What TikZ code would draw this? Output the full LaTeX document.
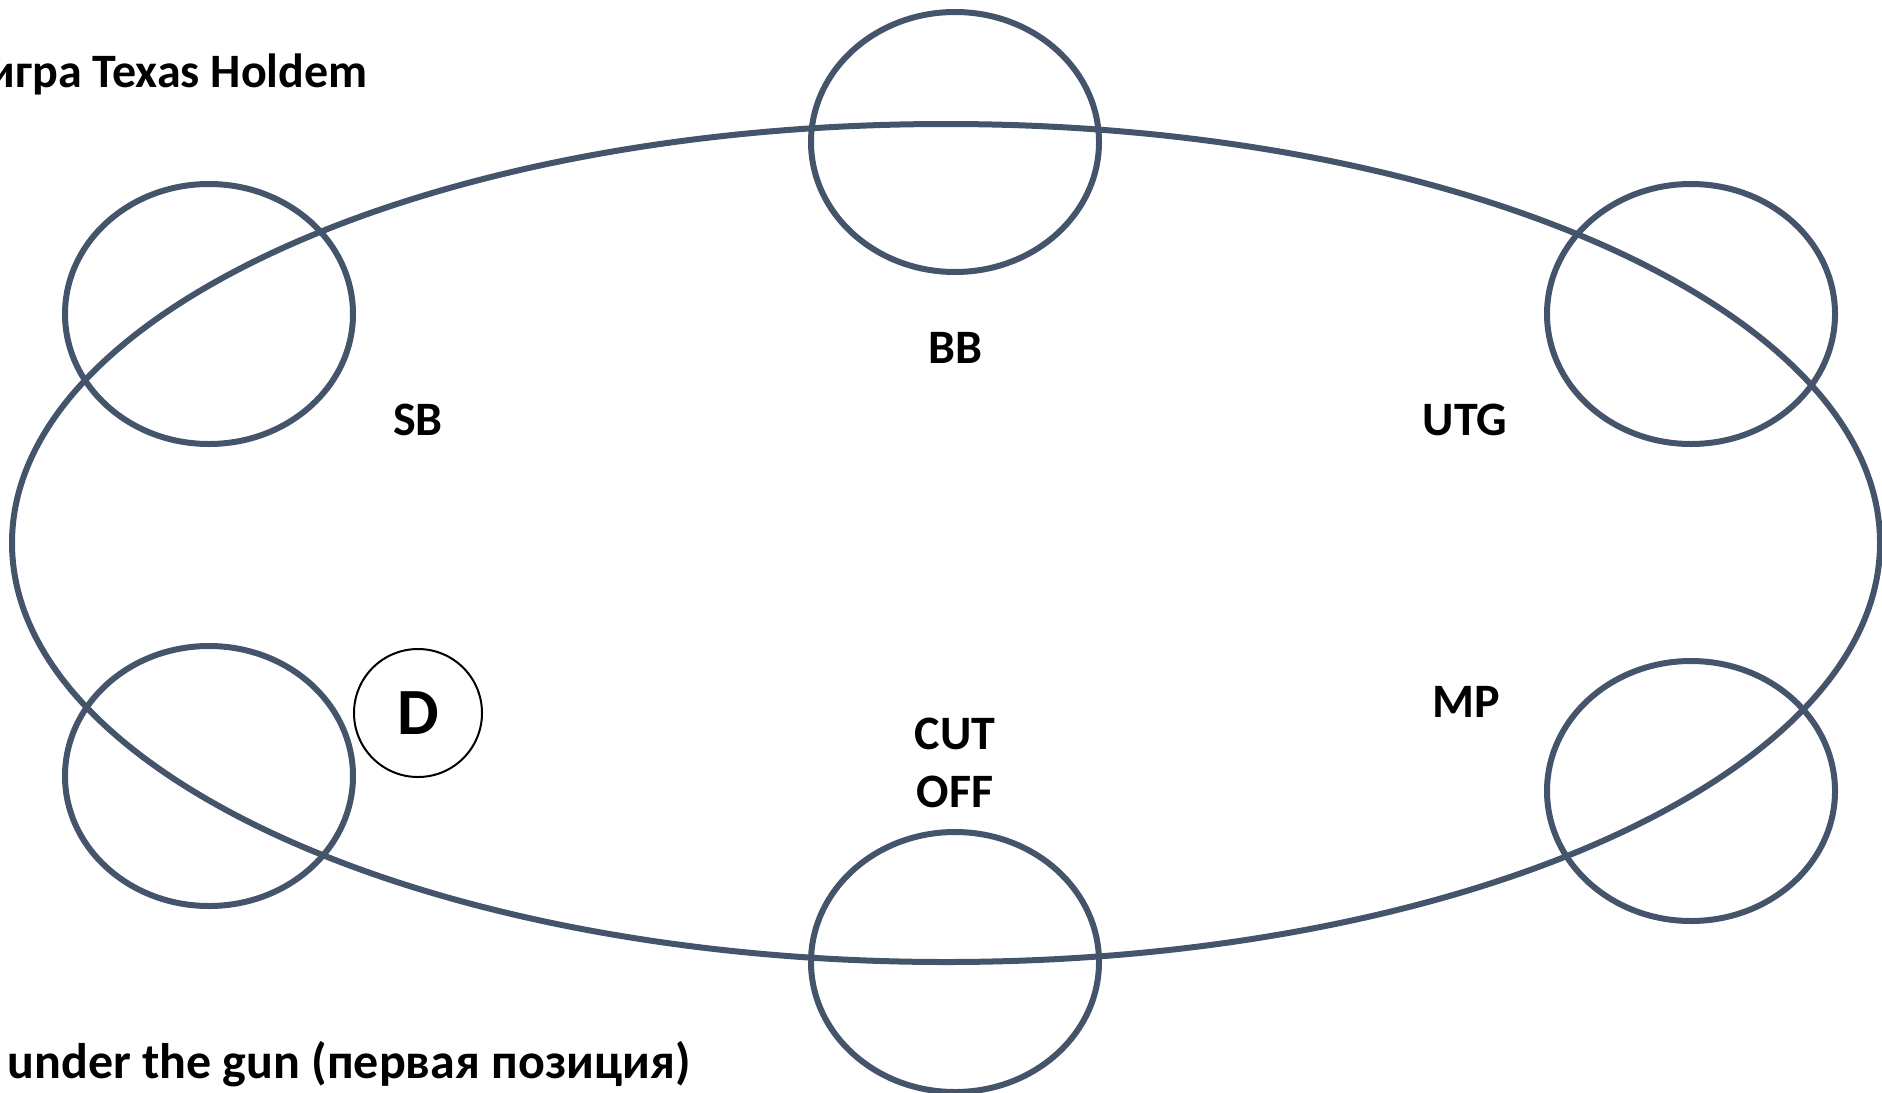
\documentclass[tikz,border=0pt]{standalone}
\usepackage{fontspec}
\setmainfont{Carlito}
\usepackage{xcolor}
\usetikzlibrary{shapes.geometric}
\definecolor{slate}{HTML}{44546A}

\tikzset{
  seat/.style={draw=slate, line width=3pt, ellipse, minimum width=144pt, minimum height=130pt, inner sep=0pt},
  seatlabel/.style={font=\bfseries\fontsize{24}{29}\selectfont, align=center},
  caption/.style={font=\bfseries\fontsize{24}{29}\selectfont, anchor=east, inner sep=0pt},
  button/.style={draw=black, line width=1pt, circle, minimum size=64pt, inner sep=0pt, font=\bfseries\fontsize{33}{36}\selectfont}
}

\begin{document}
\begin{tikzpicture}[x=0.5pt, y=-0.5pt]
        \useasboundingbox (0,0) rectangle (1882,1092);
        \clip (0,0) rectangle (1882,1092);
        % Table
        \draw[draw=slate, line width=3pt] (946,543) ellipse [x radius=467pt, y radius=209.5pt];
        % Seats
        \node[seat] (seatbb) at (955,142) {};
        \node[seat] (seatsb) at (209,314) {};
        \node[seat] (seatutg) at (1691,314) {};
        \node[seat] (seatbtn) at (209,776) {};
        \node[seat] (seatmp) at (1691,791) {};
        \node[seat] (seatco) at (955,962) {};
        % Dealer button
        \node[button] (dealer) at (418,713) {D};
        % Position names
        \node[seatlabel] (sb) at (418,420) {SB};
        \node[seatlabel] (bb) at (955,348) {BB};
        \node[seatlabel] (utg) at (1465,420) {UTG};
        \node[seatlabel] (mp) at (1466,702) {MP};
        \node[seatlabel] (co) at (955,763) {CUT\\OFF};
        % Captions
        \node[caption] (title) at (368,74) {игра Texas Holdem};
        \node[caption, font=\bfseries\fontsize{25}{29}\selectfont] (note) at (691,1064) {under the gun (первая позиция)};
\end{tikzpicture}
\end{document}
